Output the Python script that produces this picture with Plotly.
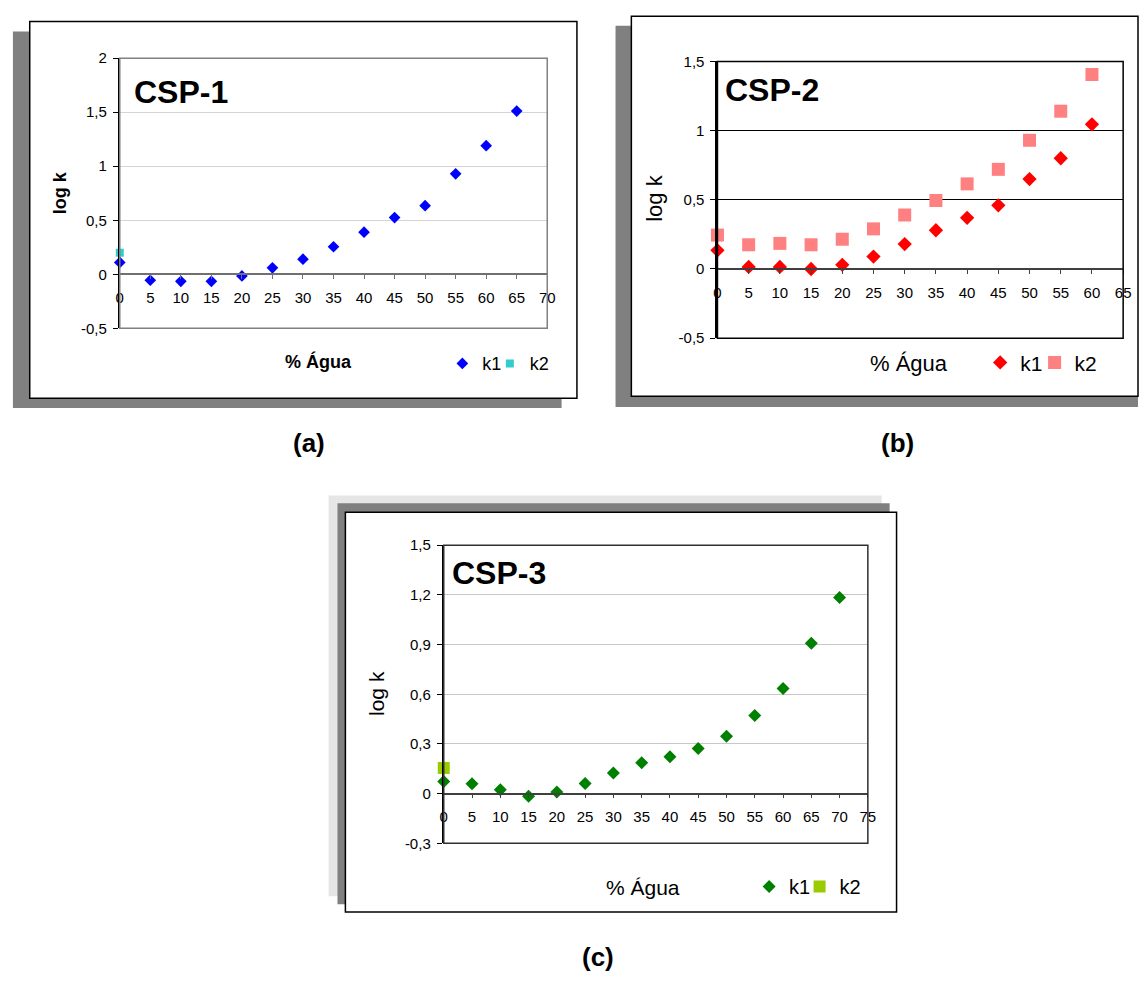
import plotly.graph_objects as go

# ---------------- data ----------------
water_a = [0, 5, 10, 15, 20, 25, 30, 35, 40, 45, 50, 55, 60, 65]
k1_a = [0.11, -0.055, -0.065, -0.065, -0.015, 0.06, 0.14, 0.255, 0.39, 0.525, 0.635, 0.93, 1.19, 1.51]
water_a_k2 = [0]
k2_a = [0.20]

water_b = [0, 5, 10, 15, 20, 25, 30, 35, 40, 45, 50, 55, 60]
k1_b = [0.135, 0.015, 0.015, 0.0, 0.03, 0.09, 0.18, 0.28, 0.37, 0.46, 0.65, 0.80, 1.045]
k2_b = [0.245, 0.175, 0.185, 0.175, 0.215, 0.29, 0.39, 0.495, 0.615, 0.72, 0.93, 1.14, 1.405]

water_c = [0, 5, 10, 15, 20, 25, 30, 35, 40, 45, 50, 55, 60, 65, 70]
k1_c = [0.073, 0.06, 0.024, -0.016, 0.01, 0.061, 0.124, 0.187, 0.223, 0.272, 0.347, 0.472, 0.635, 0.908, 1.185]
water_c_k2 = [0]
k2_c = [0.155]

xticks_a = list(range(0, 75, 5))
xticks_b = list(range(0, 70, 5))
xticks_c = list(range(0, 80, 5))
yticks_a = [-0.5, 0, 0.5, 1, 1.5, 2]
ylabels_a = ["-0,5", "0", "0,5", "1", "1,5", "2"]
yticks_b = [-0.5, 0, 0.5, 1, 1.5]
ylabels_b = ["-0,5", "0", "0,5", "1", "1,5"]
yticks_c = [-0.3, 0, 0.3, 0.6, 0.9, 1.2, 1.5]
ylabels_c = ["-0,3", "0", "0,3", "0,6", "0,9", "1,2", "1,5"]

titles = ["CSP-1", "CSP-2", "CSP-3"]
panel_labels = ["(a)", "(b)", "(c)"]
xlabel = "% Água"
ylabel = "log k"

# ---------------- layout helpers ----------------
W, H = 1146, 981
FONT = "Liberation Sans, Arial, sans-serif"
LEG_OFF = 21  # distance from legend box left edge to symbol centre


def fx(p):
    return p / W


def fy(p):
    return 1 - p / H


fig = go.Figure()

panels = [
    dict(ax="", x=(117, 549), y=(50, 325), xr=(0, 70), yr=(-0.5, 2),
         xt=xticks_a, yt=yticks_a, yl=ylabels_a, grid="#D4D4D4", border="#808080",
         zero="#707070", bold=True, afont=18, lfont=18,
         title_pos=(129, 84), ylab_pos=(56, 187), xlab_pos=(318, 359),
         leg_sym=(464, 512), leg_y=361, lab_pos=(308, 442)),
    dict(ax="2", x=(721, 1131), y=(53.3, 335), xr=(0, 65), yr=(-0.5, 1.5),
         xt=xticks_b, yt=yticks_b, yl=ylabels_b, grid="#000000", border="#000000",
         zero="#404040", bold=False, afont=22, lfont=21,
         title_pos=(727, 82), ylab_pos=(658, 193), xlab_pos=(915, 361),
         leg_sym=(1007.5, 1062.5), leg_y=360, lab_pos=(903, 442)),
    dict(ax="3", x=(444.4, 873), y=(545.7, 849), xr=(0, 75), yr=(-0.3, 1.5),
         xt=xticks_c, yt=yticks_c, yl=ylabels_c, grid="#C8C8C8", border="#303030",
         zero="#404040", bold=False, afont=21, lfont=20,
         title_pos=(451, 574), ylab_pos=(377, 697), xlab_pos=(646, 894),
         leg_sym=(774, 825), leg_y=893, lab_pos=(600, 965)),
]

# background frames / shadows
shapes = []
# panel a
shapes.append(dict(type="rect", xref="paper", yref="paper", x0=fx(9), x1=fx(563.5), y0=fy(406), y1=fy(23),
                   fillcolor="#808080", line=dict(width=0), layer="below"))
shapes.append(dict(type="rect", xref="paper", yref="paper", x0=fx(26), x1=fx(579), y0=fy(396), y1=fy(12.7),
                   fillcolor="white", line=dict(color="black", width=1.5), layer="below"))
# panel b
shapes.append(dict(type="rect", xref="paper", yref="paper", x0=fx(618), x1=fx(1146), y0=fy(405), y1=fy(17),
                   fillcolor="#808080", line=dict(width=0), layer="below"))
shapes.append(dict(type="rect", xref="paper", yref="paper", x0=fx(634), x1=fx(1146), y0=fy(394), y1=fy(7.3),
                   fillcolor="white", line=dict(color="black", width=1.5), layer="below"))
# panel c
shapes.append(dict(type="rect", xref="paper", yref="paper", x0=fx(328), x1=fx(887), y0=fy(903), y1=fy(495),
                   fillcolor="#E6E6E6", line=dict(width=0), layer="below"))
shapes.append(dict(type="rect", xref="paper", yref="paper", x0=fx(337), x1=fx(895), y0=fy(911), y1=fy(503),
                   fillcolor="#808080", line=dict(width=0), layer="below"))
shapes.append(dict(type="rect", xref="paper", yref="paper", x0=fx(345), x1=fx(902), y0=fy(919), y1=fy(512),
                   fillcolor="white", line=dict(color="black", width=1.5), layer="below"))

annotations = []
layout_axes = {}

series = [
    [(water_a, k1_a, "k1", "diamond", "#0000FF", 9), (water_a_k2, k2_a, "k2", "square", "#33CCCC", 8)],
    [(water_b, k1_b, "k1", "diamond", "#FF0000", 11), (water_b, k2_b, "k2", "square", "#FF8080", 13)],
    [(water_c, k1_c, "k1", "diamond", "#008000", 10), (water_c_k2, k2_c, "k2", "square", "#99CC00", 12)],
]

leg_idx = 0
for i, p in enumerate(panels):
    a = p["ax"]
    xd = [fx(p["x"][0]), fx(p["x"][1])]
    yd = [fy(p["y"][1]), fy(p["y"][0])]
    y0, y1 = p["yr"]
    zero_pos = yd[0] + (0 - y0) / (y1 - y0) * (yd[1] - yd[0])

    layout_axes["xaxis" + a] = dict(
        domain=xd, range=list(p["xr"]), anchor="free", position=zero_pos,
        tickvals=p["xt"], ticktext=[str(v) for v in p["xt"]],
        showgrid=False, zeroline=False, showline=True, linecolor=p["zero"], linewidth=1.5,
        ticks="outside", ticklen=4, tickcolor=p["zero"], tickwidth=1, ticklabelstandoff=6,
        tickfont=dict(family=FONT, size=15, color="black"), fixedrange=True,
    )
    layout_axes["yaxis" + a] = dict(
        domain=yd, range=list(p["yr"]), anchor="x" + a,
        tickvals=p["yt"], ticktext=p["yl"],
        showgrid=True, gridcolor=p["grid"], gridwidth=1, zeroline=False,
        showline=True, linecolor="black", linewidth=2,
        ticks="outside", ticklen=5, tickcolor="black", ticklabelstandoff=3,
        tickfont=dict(family=FONT, size=15, color="black"), fixedrange=True,
    )
    # plot-area border
    shapes.append(dict(type="rect", xref=f"x{a} domain", yref=f"y{a} domain", x0=0, x1=1, y0=0, y1=1,
                       line=dict(color=p["border"], width=1.5), layer="above"))

    for j, (xs, ys, name, sym, col, sz) in enumerate(series[i]):
        legname = "legend" if leg_idx == 0 else f"legend{leg_idx + 1}"
        leg_idx += 1
        fig.add_trace(go.Scatter(
            x=xs, y=ys, mode="markers", name=name, xaxis="x" + a, yaxis="y" + a,
            marker=dict(symbol=sym, color=col, size=sz, line=dict(width=0)),
            cliponaxis=False, legend=legname,
        ))
        layout_axes[legname] = dict(
            orientation="h", x=fx(p["leg_sym"][j] - LEG_OFF), y=fy(p["leg_y"]),
            xanchor="left", yanchor="middle", bgcolor="rgba(0,0,0,0)",
            font=dict(family=FONT, size=p["lfont"], color="black"),
            itemwidth=30,
        )

    wt = "bold" if p["bold"] else "normal"
    annotations.append(dict(text=f"<b>{titles[i]}</b>", xref="paper", yref="paper",
                            x=fx(p["title_pos"][0]), y=fy(p["title_pos"][1]),
                            xanchor="left", yanchor="middle", showarrow=False,
                            font=dict(family=FONT, size=32, color="black")))
    annotations.append(dict(text=ylabel, xref="paper", yref="paper",
                            x=fx(p["ylab_pos"][0]), y=fy(p["ylab_pos"][1]), textangle=-90,
                            xanchor="center", yanchor="middle", showarrow=False,
                            font=dict(family=FONT, size=p["afont"], color="black", weight=wt)))
    annotations.append(dict(text=xlabel, xref="paper", yref="paper",
                            x=fx(p["xlab_pos"][0]), y=fy(p["xlab_pos"][1]),
                            xanchor="center", yanchor="middle", showarrow=False,
                            font=dict(family=FONT, size=p["afont"], color="black", weight=wt)))
    annotations.append(dict(text=f"<b>{panel_labels[i]}</b>", xref="paper", yref="paper",
                            x=fx(p["lab_pos"][0]), y=fy(p["lab_pos"][1]),
                            xanchor="center", yanchor="middle", showarrow=False,
                            font=dict(family=FONT, size=26, color="black")))

fig.update_layout(
    width=W, height=H, margin=dict(l=0, r=0, t=0, b=0),
    paper_bgcolor="white", plot_bgcolor="rgba(0,0,0,0)",
    showlegend=True, shapes=shapes, annotations=annotations,
    **layout_axes,
)

POST = (
    "document.documentElement.style.margin='0';"
    "document.documentElement.style.padding='0';"
    "document.body.style.margin='0';"
    "document.body.style.padding='0';"
    "document.body.style.overflow='hidden';"
    "var gd=document.getElementById('{plot_id}');"
    "gd.style.position='fixed';gd.style.top='0px';gd.style.left='0px';"
    "window.scrollTo(0,0);"
)

fig.write_html("out.html", config={"displayModeBar": False}, post_script=POST)
